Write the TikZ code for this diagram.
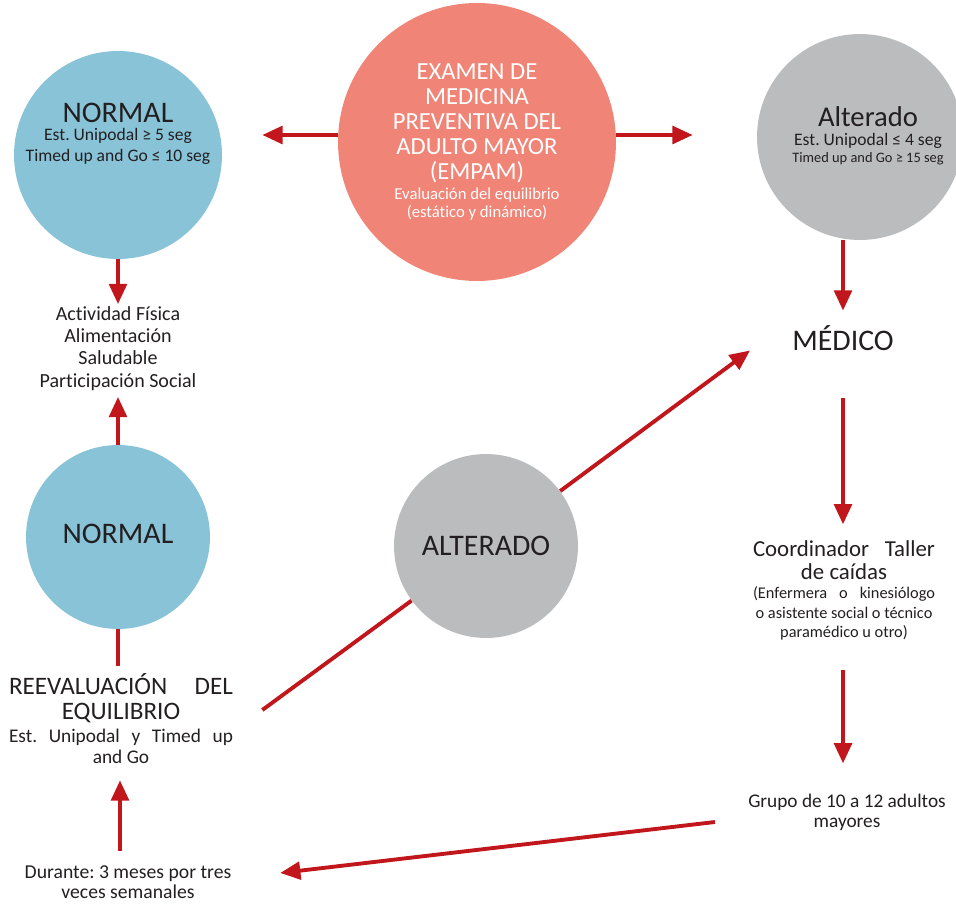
\documentclass[tikz,border=0pt]{standalone}
\usepackage{fontspec}
\setmainfont[Ligatures=NoCommon]{Carlito}
\usetikzlibrary{arrows.meta}
\usetikzlibrary{positioning}
\usetikzlibrary{calc}
\definecolor{azul}{HTML}{88C3D7}
\definecolor{salmon}{HTML}{F08476}
\definecolor{gris}{HTML}{BBBCBE}
\definecolor{rojo}{HTML}{C1161C}
\definecolor{tinta}{HTML}{231F20}
\newcommand{\titfont}{\fontsize{17}{17}\selectfont}
\newcommand{\subfont}{\fontsize{10}{11.7}\selectfont}
\newcommand{\txtfont}{\fontsize{11.4}{12.7}\selectfont}
\newcommand{\parfont}{\fontsize{9.3}{10}\selectfont}
\frenchspacing

\begin{document}
\begin{tikzpicture}[x=0.02cm,y=-0.02cm]
\tikzstyle{blue node}=[circle,fill=azul,inner sep=0]
\tikzstyle{grey node}=[circle,fill=gris,inner sep=0]
\tikzstyle{salmon node}=[circle,fill=salmon,inner sep=0,text=white,align=center]
\tikzstyle{text node}=[align=center,text=tinta,inner sep=0]
\tikzset{
  flecha/.style = {draw=rojo,line width=2.2pt,-{Triangle[length=11.5pt,width=10pt]}},
  linea/.style  = {draw=rojo,line width=2.2pt}
}
\useasboundingbox (0,0) rectangle (956,908);

    \node[salmon node,minimum size=5.56cm,font=\fontsize{14}{14.2}\selectfont] (empam) at (477,142)
      {EXAMEN DE\\MEDICINA\\PREVENTIVA DEL\\ADULTO MAYOR\\(EMPAM)\\[-2.8pt]
       {\fontsize{9.5}{10}\selectfont Evaluación del equilibrio}\\[-4pt]
       {\fontsize{9.5}{10}\selectfont (estático y dinámico)}};
    \node[blue node,minimum size=4.16cm] (n1) at (118,155) {};
    \node[text node,font=\subfont] (n1t) at (118,134)
      {{\titfont NORMAL}\\[-1.5pt]Est. Unipodal ≥ 5 seg\\Timed up and Go ≤ 10 seg};
    \node[grey node,minimum size=4.12cm] (alt1) at (860,137) {};
    \node[text node,font=\subfont] (alt1t) at (868,135.5)
      {{\fontsize{16.3}{17}\selectfont Alterado}\\[-1pt]Est. Unipodal ≤ 4 seg\\[-2pt]
       {\fontsize{8.2}{9}\selectfont Timed up and Go ≥ 15 seg}};
    \node[text node,font=\txtfont] (act) at (118,348.5)
      {Actividad Física\\Alimentación\\Saludable\\Participación Social};
    \node[text node,font=\titfont] (med) at (843,338.5) {MÉDICO};
    \node[blue node,minimum size=3.68cm] (n2) at (118,537) {};
    \node[text node,font=\titfont] (n2t) at (118,534) {NORMAL};
    \node[grey node,minimum size=3.68cm] (alt2) at (486,546) {};
    \node[text node,font=\titfont] (alt2t) at (486,546) {ALTERADO};
    \node[text node,font=\fontsize{13}{13.2}\selectfont] (coord) at (844,590.5)
      {\makebox[3.64cm][s]{Coordinador Taller}\\de caídas\\[-2.4pt]
       {\parfont\makebox[3.64cm][s]{(Enfermera o kinesiólogo}}\\[-1.8pt]
       {\parfont o asistente social o técnico}\\[-2.4pt]
       {\parfont paramédico u otro)}};
    \node[text node,font=\fontsize{14.3}{14.2}\selectfont] (reeval) at (121,719)
      {\makebox[4.48cm][s]{REEVALUACIÓN DEL}\\EQUILIBRIO\\[-1.2pt]
       {\fontsize{11}{12}\selectfont\makebox[4.48cm][s]{Est. Unipodal y Timed up}}\\[-2.2pt]
       {\fontsize{11}{12}\selectfont and Go}};
    \node[text node,font=\fontsize{11}{11.4}\selectfont] (grupo) at (847,812) {Grupo de 10 a 12 adultos\\mayores};
    \node[text node,font=\fontsize{11.2}{11.4}\selectfont] (durante) at (128,882.5) {Durante: 3 meses por tres\\veces semanales};

    \path
      ([shift={(0,-7)}]empam.west) edge[flecha] ([shift={(40,-20)}]n1.east)
      ([shift={(0,-7)}]empam.east) edge[flecha] ([shift={(-64,-2)}]alt1.west)
      (n1) edge[flecha] ([shift={(0,-2)}]act.north)
      (n2) edge[flecha] ([shift={(0,6)}]act.south)
      (alt1.south -| med) edge[flecha] ([shift={(0,-15)}]med.north)
      ([shift={(0,47)}]med.south) edge[flecha] ([shift={(-1,-16)}]coord.north)
      ([shift={(-1,29)}]coord.south) edge[flecha] ([shift={(-4,-30)}]grupo.north)
      ([shift={(-33,10)}]grupo.west) edge[flecha] ([shift={(48.5,-9.5)}]durante.east)
      ([shift={(-8,-15)}]durante.north) edge[flecha] ([shift={(-1,16)}]reeval.south)
      (alt2) edge[flecha] ([shift={(-93,12)}]med.center);
    \path
      (n2) edge[linea] ([shift={(-3,-8)}]reeval.north)
      ([shift={(29,-9)}]reeval.east) edge[linea] (alt2);
\end{tikzpicture}
\end{document}
